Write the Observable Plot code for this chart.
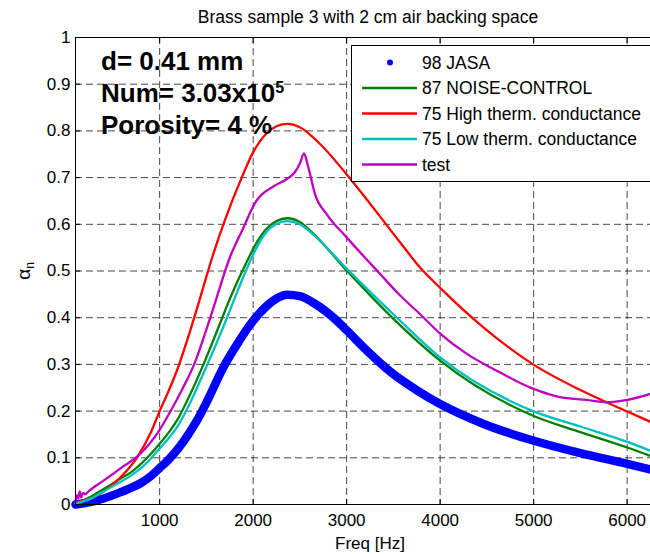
<!DOCTYPE html>
<html><head><meta charset="utf-8">
<script src="https://cdn.jsdelivr.net/npm/d3@7"></script>
<script src="https://cdn.jsdelivr.net/npm/@observablehq/plot@0.6"></script>
<style>body{margin:0;background:#fff} svg{display:block}</style>
</head><body><div id="chart"></div>
<script>
// ---- data ----
const freqJASA  = [100, 257, 400, 578, 700, 800, 900, 1000, 1100, 1200, 1300, 1400, 1500, 1682, 1850, 1967, 2145, 2250, 2365, 2500, 2643, 2893, 3000, 3214, 3463, 3748, 4000, 4459, 4994, 5500, 6002, 6250];
const alphaJASA = [0.0, 0.005, 0.013, 0.026, 0.036, 0.046, 0.06, 0.078, 0.097, 0.12, 0.148, 0.18, 0.218, 0.294, 0.35, 0.385, 0.425, 0.441, 0.449, 0.446, 0.432, 0.394, 0.373, 0.33, 0.285, 0.245, 0.215, 0.173, 0.137, 0.11, 0.087, 0.075];

const freqNC  = [100, 257, 400, 578, 700, 800, 900, 1000, 1100, 1200, 1300, 1400, 1500, 1670, 1750, 1932, 2050, 2150, 2250, 2365, 2500, 2643, 3000, 3498, 4000, 4994, 5500, 6002, 6250];
const alphaNC = [0.002, 0.016, 0.033, 0.055, 0.07, 0.087, 0.107, 0.13, 0.155, 0.185, 0.225, 0.268, 0.315, 0.40, 0.44, 0.52, 0.565, 0.592, 0.607, 0.613, 0.605, 0.58, 0.501, 0.398, 0.308, 0.19, 0.155, 0.122, 0.104];

const freqHigh  = [100, 300, 500, 600, 756, 900, 1000, 1100, 1200, 1300, 1400, 1575, 1700, 1878, 2002, 2145, 2250, 2365, 2500, 2715, 3053, 3569, 3783, 4000, 4459, 4994, 5500, 6002, 6250];
const alphaHigh = [0.004, 0.016, 0.043, 0.062, 0.10, 0.152, 0.20, 0.245, 0.295, 0.355, 0.42, 0.537, 0.61, 0.70, 0.755, 0.795, 0.81, 0.815, 0.808, 0.772, 0.694, 0.562, 0.508, 0.464, 0.38, 0.30, 0.245, 0.199, 0.177];

const freqLow  = [100, 257, 400, 578, 700, 800, 900, 1000, 1100, 1200, 1300, 1400, 1500, 1690, 1750, 1932, 2050, 2150, 2250, 2365, 2500, 2643, 3000, 3569, 4000, 4994, 5500, 6002, 6250];
const alphaLow = [0.002, 0.012, 0.028, 0.048, 0.063, 0.078, 0.097, 0.12, 0.143, 0.17, 0.207, 0.25, 0.295, 0.385, 0.415, 0.505, 0.555, 0.585, 0.601, 0.607, 0.6, 0.578, 0.505, 0.394, 0.315, 0.2, 0.167, 0.134, 0.115];

const freqTest  = [100, 115, 130, 145, 160, 180, 200, 250, 400, 600, 774, 1000, 1112, 1250, 1369, 1450, 1550, 1753, 1913, 1980, 2038, 2216, 2360, 2448, 2500, 2544, 2580, 2608, 2661, 2786, 3000, 3356, 3570, 3783, 4000, 4282, 4638, 4994, 5279, 5564, 5778, 6002, 6250];
const alphaTest = [0.005, 0.02, 0.012, 0.028, 0.015, 0.025, 0.022, 0.03, 0.051, 0.08, 0.105, 0.16, 0.198, 0.25, 0.30, 0.345, 0.405, 0.53, 0.60, 0.63, 0.651, 0.681, 0.697, 0.712, 0.73, 0.752, 0.73, 0.708, 0.665, 0.622, 0.572, 0.494, 0.448, 0.408, 0.366, 0.323, 0.283, 0.248, 0.23, 0.224, 0.219, 0.224, 0.237];

const seriesNames  = ["98 JASA", "87 NOISE-CONTROL", "75 High therm. conductance", "75 Low therm. conductance", "test"];
const seriesColors = ["#0000ff", "#008000", "#ff0000", "#00bfbf", "#bf00bf"];
const seriesFreq   = [freqJASA, freqNC, freqHigh, freqLow, freqTest];
const seriesAlpha  = [alphaJASA, alphaNC, alphaHigh, alphaLow, alphaTest];

const xTicks = [1000, 2000, 3000, 4000, 5000, 6000];
const xTickLabels = ["1000", "2000", "3000", "4000", "5000", "6000"];
const yTicks = [0, 0.1, 0.2, 0.3, 0.4, 0.5, 0.6, 0.7, 0.8, 0.9, 1];
const yTickLabels = ["0", "0.1", "0.2", "0.3", "0.4", "0.5", "0.6", "0.7", "0.8", "0.9", "1"];

const titleText = "Brass sample 3 with 2 cm air backing space";
const xLabelText = "Freq [Hz]";
const annotationLines = ["d= 0.41 mm", "Num= 3.03x10", "Porosity= 4 %"];
const annotationSup = "5";

// ---- build tables ----
const rows = seriesNames.map((name, k) =>
  seriesFreq[k].map((f, i) => ({series: name, freq: f, alpha: seriesAlpha[k][i]})));

const font = "'Liberation Sans', Arial, Helvetica, sans-serif";
const grid = {stroke: "#000", strokeOpacity: 0.72, strokeDasharray: "7,4", strokeWidth: 1};
const thin = {x: "freq", y: "alpha", strokeWidth: 2.3, curve: "monotone-x"};

const plot = Plot.plot({
  width: 650, height: 554,
  marginTop: 37, marginBottom: 50, marginLeft: 75, marginRight: 0,
  style: {fontFamily: font, fontSize: "17px", color: "#000", background: "#fff", overflow: "visible"},
  x: {domain: [100, 6250]},
  y: {domain: [0, 1]},
  marks: [
    Plot.gridX(xTicks, grid),
    Plot.gridY(yTicks, grid),
    Plot.line(rows[0], {x: "freq", y: "alpha", stroke: seriesColors[0], strokeWidth: 8.5, strokeLinecap: "round", strokeLinejoin: "round", curve: "monotone-x"}),
    Plot.line(rows[1], {...thin, stroke: seriesColors[1]}),
    Plot.line(rows[2], {...thin, stroke: seriesColors[2]}),
    Plot.line(rows[3], {...thin, stroke: seriesColors[3]}),
    Plot.line(rows[4], {...thin, stroke: seriesColors[4]}),
    Plot.frame({stroke: "#000"}),
    Plot.axisX(xTicks, {tickSize: -5, tickPadding: 14, label: null, fontSize: 17,
      tickFormat: d => xTickLabels[xTicks.indexOf(d)]}),
    Plot.axisX(xTicks, {anchor: "top", tickSize: -5, tickFormat: () => "", label: null}),
    Plot.axisY(yTicks, {tickSize: -5, tickPadding: 10, label: null, fontSize: 17,
      tickFormat: d => yTickLabels[yTicks.indexOf(d)]})
  ]
});

document.getElementById("chart").appendChild(plot);
const svg = d3.select(plot);

// title
svg.append("text").attr("x", 368).attr("y", 23).attr("text-anchor", "middle")
  .attr("font-family", font).attr("font-size", 17.5).text(titleText);
// x label
svg.append("text").attr("x", 370).attr("y", 549).attr("text-anchor", "middle")
  .attr("font-family", font).attr("font-size", 17).text(xLabelText);
// y label alpha_n
const yl = svg.append("text").attr("transform", "translate(30,271) rotate(-90)")
  .attr("text-anchor", "middle").attr("font-family", font).attr("font-size", 19);
yl.append("tspan").text("α");
yl.append("tspan").attr("font-size", 12).attr("dy", 4).text("n");

// annotation
const ann = svg.append("g").attr("font-family", font).attr("font-weight", "bold")
  .attr("font-size", 26).attr("text-anchor", "start");
annotationLines.forEach((t, i) => {
  const tx = ann.append("text").attr("x", 101).attr("y", 69.5 + i * 32).attr("text-anchor", "start");
  tx.append("tspan").text(t);
  if (i === 1) tx.append("tspan").attr("font-size", 16).attr("dy", -9).text(annotationSup);
});

// legend
const lg = svg.append("g").attr("font-family", font).attr("font-size", 17.5).attr("text-anchor", "start");
lg.append("rect").attr("x", 351.5).attr("y", 45.5).attr("width", 330).attr("height", 136)
  .attr("fill", "#fff").attr("stroke", "#000");
seriesNames.forEach((name, i) => {
  const cy = 62.5 + i * 25.5;
  if (i === 0) {
    lg.append("circle").attr("cx", 390).attr("cy", cy).attr("r", 3).attr("fill", seriesColors[0]);
  } else {
    lg.append("line").attr("x1", 362).attr("x2", 417).attr("y1", cy).attr("y2", cy)
      .attr("stroke", seriesColors[i]).attr("stroke-width", 2.5);
  }
  lg.append("text").attr("x", 422).attr("y", cy).attr("dy", "0.36em").attr("text-anchor", "start").text(name);
});
</script>
</body></html>
